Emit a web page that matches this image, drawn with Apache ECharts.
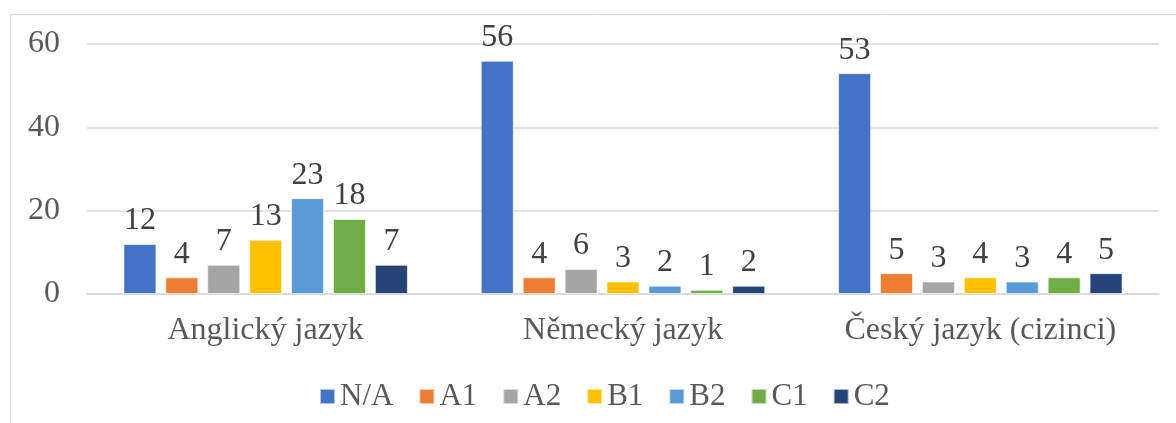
<!DOCTYPE html>
<html>
<head>
<meta charset="utf-8">
<script src="https://cdn.jsdelivr.net/npm/echarts@6/dist/echarts.min.js"></script>
<style>
  html, body { margin: 0; padding: 0; background: #fff; }
  #chart { width: 1176px; height: 423px; }
</style>
</head>
<body>
<div id="chart"></div>
<script>
// categories and levels
const categories = ["Anglický jazyk", "Německý jazyk", "Český jazyk (cizinci)"];
const levels = ["N/A", "A1", "A2", "B1", "B2", "C1", "C2"];
const colors = ["#4472C4", "#ED7D31", "#A5A5A5", "#FFC000", "#5B9BD5", "#70AD47", "#264478"];

// values per level, one entry per category
const naValues = [12, 56, 53];
const a1Values = [4, 4, 5];
const a2Values = [7, 6, 3];
const b1Values = [13, 3, 4];
const b2Values = [23, 2, 3];
const c1Values = [18, 1, 4];
const c2Values = [7, 2, 5];
const yTicks = [0, 20, 40, 60];

const seriesValues = [naValues, a1Values, a2Values, b1Values, b2Values, c1Values, c2Values];
const font = "'Liberation Serif', 'Times New Roman', serif";

const chart = echarts.init(document.getElementById("chart"));
const option = {
  animation: false,
  textStyle: { fontFamily: font },
  // outer chart frame (only top and left edges are visible)
  graphic: [{
    type: "rect",
    shape: { x: 10.5, y: 14.5, width: 1300, height: 600 },
    style: { fill: "none", stroke: "#d9d9d9", lineWidth: 1 },
    silent: true,
  }],
  grid: { left: 87, right: 17, top: 44, bottom: 129 },
  legend: {
    data: levels,
    left: 314,
    top: 376,
    icon: "rect",
    itemWidth: 15,
    itemHeight: 15,
    itemGap: 25,
    textStyle: { fontFamily: font, fontSize: 31, color: "#595959" },
  },
  xAxis: {
    type: "category",
    data: categories,
    axisTick: { show: false },
    axisLine: { lineStyle: { color: "#d9d9d9", width: 1.5 } },
    axisLabel: { fontFamily: font, fontSize: 32, color: "#595959", margin: 21 },
  },
  yAxis: {
    type: "value",
    min: yTicks[0],
    max: yTicks[yTicks.length - 1],
    interval: 20,
    axisLine: { show: false },
    axisTick: { show: false },
    splitLine: { lineStyle: { color: "#d9d9d9", width: 1.5 } },
    axisLabel: { fontFamily: font, fontSize: 32, color: "#595959", margin: 27 },
  },
  series: levels.map((name, i) => ({
    name: name,
    type: "bar",
    data: seriesValues[i],
    barWidth: 33,
    barGap: "27%",
    barCategoryGap: "20%",
    itemStyle: { color: colors[i], borderColor: "rgba(255,255,255,0.6)", borderWidth: 1 },
    label: {
      show: true,
      position: "top",
      distance: 7,
      fontFamily: font,
      fontSize: 32,
      color: "#404040",
    },
  })),
};
chart.setOption(option);
</script>
</body>
</html>
